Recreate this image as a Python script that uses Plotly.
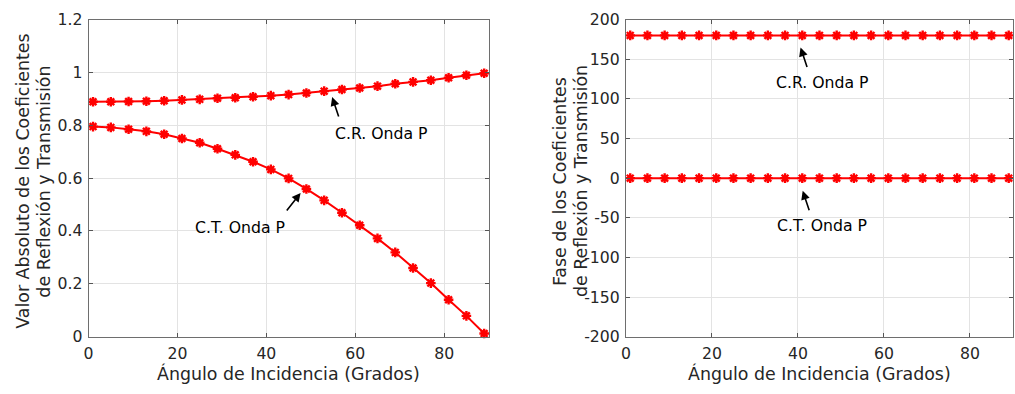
import plotly.graph_objects as go

# ---- data ----
theta = [1, 5, 9, 13, 17, 21, 25, 29, 33, 37, 41, 45, 49, 53, 57, 61, 65, 69, 73, 77, 81, 85, 89]
abs_R = [0.889, 0.889, 0.890, 0.891, 0.893, 0.896, 0.898, 0.902, 0.904, 0.908, 0.912, 0.916,
         0.922, 0.929, 0.935, 0.941, 0.948, 0.957, 0.964, 0.970, 0.980, 0.989, 0.997]
abs_T = [0.795, 0.792, 0.785, 0.777, 0.766, 0.750, 0.734, 0.711, 0.688, 0.662, 0.633, 0.599,
         0.559, 0.516, 0.469, 0.422, 0.372, 0.319, 0.260, 0.203, 0.140, 0.079, 0.012]
phase_R = [180, 180, 180, 180, 180, 180, 180, 180, 180, 180, 180, 180,
           180, 180, 180, 180, 180, 180, 180, 180, 180, 180, 180]
phase_T = [0, 0, 0, 0, 0, 0, 0, 0, 0, 0, 0, 0,
           0, 0, 0, 0, 0, 0, 0, 0, 0, 0, 0]
x_ticks = [0, 20, 40, 60, 80]
y1_ticks = [0, 0.2, 0.4, 0.6, 0.8, 1, 1.2]
y1_labels = ["0", "0.2", "0.4", "0.6", "0.8", "1", "1.2"]
y2_ticks = [-200, -150, -100, -50, 0, 50, 100, 150, 200]
y2_labels = ["-200", "-150", "-100", "-50", "0", "50", "100", "150", "200"]

FONT = "DejaVu Sans"
TXT = "#262626"
RED = "#ff0000"
TICK_SIZE = 15.7
LABEL_SIZE = 17.4

fig = go.Figure()


def add_series(x, y, xa, ya):
    fig.add_trace(go.Scatter(
        x=x, y=y, xaxis=xa, yaxis=ya, mode="lines+markers",
        line=dict(color=RED, width=2),
        marker=dict(symbol="asterisk-open", size=8, color=RED,
                    line=dict(color=RED, width=2.4)),
        showlegend=False, cliponaxis=False))


add_series(theta, abs_R, "x", "y")
add_series(theta, abs_T, "x", "y")
add_series(theta, phase_R, "x2", "y2")
add_series(theta, phase_T, "x2", "y2")

W, H = 1015, 394
ydom = [(H - 343.3) / H, (H - 10) / H]

axis_common = dict(
    showline=True, linecolor="#6e6e6e", linewidth=1, mirror="ticks",
    ticks="inside", ticklen=4, tickcolor="#555555", tickwidth=1,
    showgrid=True, gridcolor="#e3e3e3", gridwidth=1, zeroline=False,
    tickfont=dict(family=FONT, size=TICK_SIZE, color=TXT),
)

fig.update_layout(
    width=W, height=H, margin=dict(l=0, r=0, t=0, b=0),
    paper_bgcolor="white", plot_bgcolor="white",
    xaxis=dict(domain=[84 / W, 486 / W], range=[0, 90], tickvals=x_ticks,
               anchor="y", ticklabelstandoff=2, **axis_common),
    yaxis=dict(domain=ydom, range=[0, 1.2], tickvals=y1_ticks, ticktext=y1_labels,
               anchor="x", ticklabelstandoff=2, **axis_common),
    xaxis2=dict(domain=[624 / W, 1013 / W], range=[0, 90], tickvals=x_ticks,
                anchor="y2", ticklabelstandoff=2, **axis_common),
    yaxis2=dict(domain=ydom, range=[-200, 200], tickvals=y2_ticks, ticktext=y2_labels,
                anchor="x2", ticklabelstandoff=2, **axis_common),
)

ann = []
# axis titles
for cx in (285, 818.5):
    ann.append(dict(text="Ángulo de Incidencia (Grados)", xref="paper", yref="paper",
                    x=cx / W, y=(H - 382) / H, showarrow=False,
                    font=dict(family=FONT, size=LABEL_SIZE, color=TXT),
                    xanchor="center", yanchor="middle"))
ylabel_lines = [
    ("Valor Absoluto de los Coeficientes", 18.5),
    ("de Reflexión y Transmisión", 39.5),
    ("Fase de los Coeficientes", 558.5),
    ("de Reflexión y Transmisión", 579.5),
]
for text, cx in ylabel_lines:
    ann.append(dict(text=text, xref="paper", yref="paper", x=cx / W, y=(H - 180) / H,
                    textangle=-90, showarrow=False,
                    font=dict(family=FONT, size=LABEL_SIZE, color=TXT),
                    xanchor="center", yanchor="middle"))

# labels with arrows
labels = [
    ("x", "y", 66.0, 0.770, 54.8, 0.907, 7, 21),
    ("x", "y", 34.0, 0.415, 47.7, 0.544, -15, 19),
    ("x2", "y2", 45.6, 120.8, 40.6, 164.8, 7, 21),
    ("x2", "y2", 45.6, -59.2, 41.1, -16.0, 7, 21),
]
names = ["C.R. Onda P", "C.T. Onda P", "C.R. Onda P", "C.T. Onda P"]
for (xr, yr, tx, ty, hx, hy, dx, dy), name in zip(labels, names):
    ann.append(dict(text=name, xref=xr, yref=yr, x=tx, y=ty, showarrow=False,
                    font=dict(family=FONT, size=TICK_SIZE, color="#000000"),
                    xanchor="center", yanchor="middle"))
    ann.append(dict(text="", xref=xr, yref=yr, x=hx, y=hy, ax=dx, ay=dy,
                    showarrow=True, arrowhead=2, arrowsize=1.1, arrowwidth=1.6,
                    arrowcolor="#000000", standoff=0))

fig.update_layout(annotations=ann)
fig.write_html("out.html")
